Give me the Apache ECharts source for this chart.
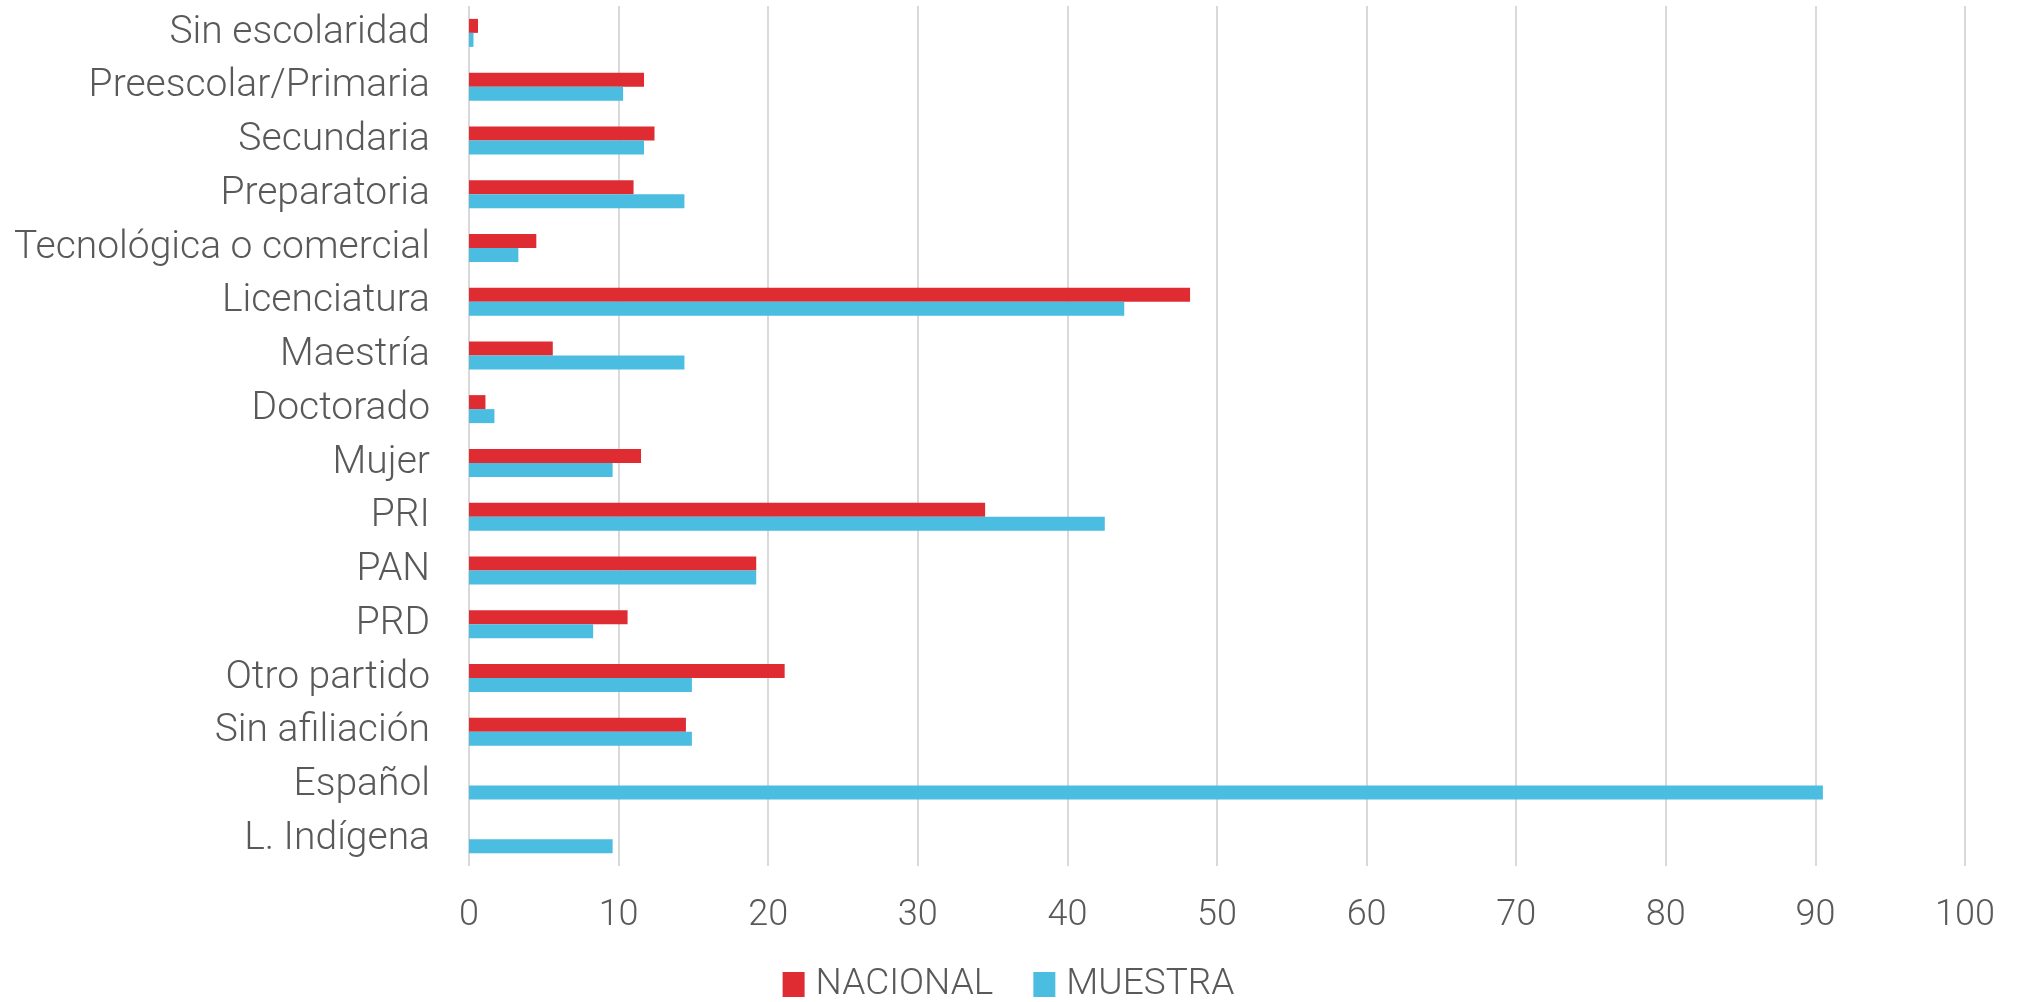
<!DOCTYPE html>
<html>
<head>
<meta charset="utf-8">
<script src="https://cdn.jsdelivr.net/npm/echarts@6/dist/echarts.min.js"></script>
<style>
    html,body{
        margin:0;
        padding:0;
        background:#ffffff;
    }
    #chart{
        width:2017px;
        height:1002px;
    }
</style>
</head>
<body>
<div id="chart"></div>
<script>

const categories=[
    "Sin escolaridad",
    "Preescolar/Primaria",
    "Secundaria",
    "Preparatoria",
    "Tecnológica o comercial",
    "Licenciatura",
    "Maestría",
    "Doctorado",
    "Mujer",
    "PRI",
    "PAN",
    "PRD",
    "Otro partido",
    "Sin afiliación",
    "Español",
    "L. Indígena"
];

// NACIONAL (red) - no value shown for the language rows
const nacional=[
    0.6, 11.7, 12.4, 11.0, 4.5, 48.2, 5.6, 1.1,
    11.5, 34.5, 19.2, 10.6, 21.1, 14.5, null, null
];

// MUESTRA (blue)
const muestra=[
    0.3, 10.3, 11.7, 14.4, 3.3, 43.8, 14.4, 1.7,
    9.6, 42.5, 19.2, 8.3, 14.9, 14.9, 90.5, 9.6
];

const xTicks=[0,10,20,30,40,50,60,70,80,90,100];

const RED="#DE2C32";
const BLUE="#4ABDE1";
const TEXT="#595959";
const FONT="Roboto";

const chart=echarts.init(
    document.getElementById("chart")
);

chart.setOption({

    animation:false,

    textStyle:{
        fontFamily:FONT
    },

    grid:{
        left:469,
        right:52,
        top:6,
        bottom:136
    },

    legend:{
        bottom:-6,
        left:"center",
        itemWidth:22,
        itemHeight:25,
        itemGap:40,
        icon:"rect",
        textStyle:{
            fontFamily:FONT,
            fontWeight:300,
            fontSize:37,
            color:TEXT,
            padding:[0,0,0,6]
        },
        data:["NACIONAL","MUESTRA"]
    },

    xAxis:{
        type:"value",
        min:xTicks[0],
        max:xTicks[xTicks.length-1],
        interval:10,
        axisLine:{show:false},
        axisTick:{show:false},
        splitLine:{
            show:true,
            lineStyle:{
                color:"#D9D9D9",
                width:2
            }
        },
        axisLabel:{
            margin:32,
            fontFamily:FONT,
            fontWeight:300,
            fontSize:36,
            color:TEXT
        }
    },

    yAxis:{
        type:"category",
        inverse:true,
        data:categories,
        axisLine:{show:false},
        axisTick:{show:false},
        axisLabel:{
            margin:39,
            fontFamily:FONT,
            fontWeight:300,
            fontSize:39,
            color:TEXT
        }
    },

    series:[
        {
            name:"NACIONAL",
            type:"bar",
            data:nacional,
            barWidth:14,
            barGap:"0%",
            itemStyle:{color:RED}
        },
        {
            name:"MUESTRA",
            type:"bar",
            data:muestra,
            barWidth:14,
            barGap:"0%",
            itemStyle:{color:BLUE}
        }
    ]
});

window.addEventListener(
    "resize",
    ()=>chart.resize()
);

</script>
</body>
</html>
